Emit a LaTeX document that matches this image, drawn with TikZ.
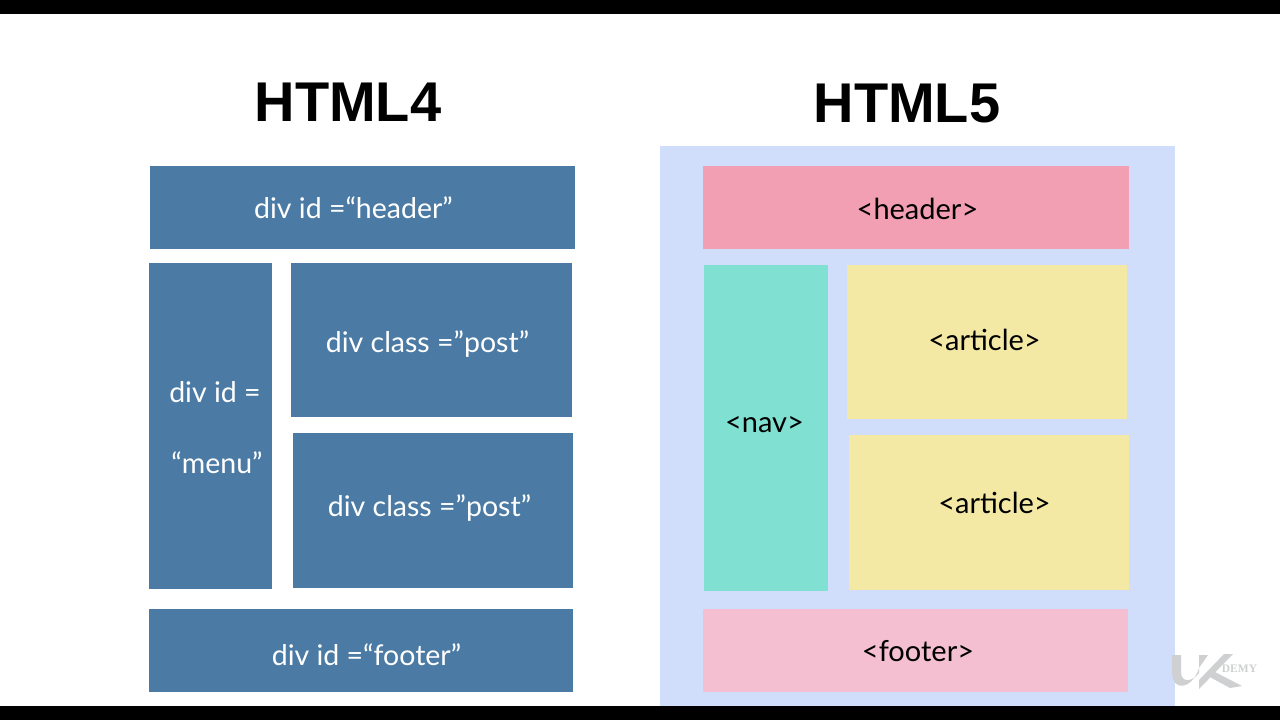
\documentclass[tikz,border=0pt]{standalone}
\usepackage{fontspec}
\setmainfont{Lato}
\newfontfamily\titlefont{Liberation Sans}
\newfontfamily\markfont{Liberation Serif}
\definecolor{divblue}{HTML}{4B7BA4}
\definecolor{pagebg}{HTML}{D1DEFB}
\definecolor{hdrpink}{HTML}{F29FB4}
\definecolor{navgreen}{HTML}{80E1D3}
\definecolor{artyellow}{HTML}{F3E9A5}
\definecolor{ftrpink}{HTML}{F3BFD1}
\definecolor{markgrey}{HTML}{CFD0D1}
\begin{document}
\begin{tikzpicture}[
    x=1pt,
    y=-1pt,
    block/.style={rectangle, inner sep=0, minimum width=#1},
    tall/.style={minimum height=#1},
    divblock/.style={block=#1, fill=divblue},
    title/.style={font=\titlefont\bfseries\fontsize{56}{60}\selectfont, text=black},
    divlabel/.style={font=\fontsize{28.5}{32}\selectfont, text=white},
    taglabel/.style={font=\fontsize{29}{32}\selectfont, text=black}]
   \useasboundingbox (0,0) rectangle (1280,720);
   \fill[white] (0,0) rectangle (1280,720);
   \fill[black] (0,0) rectangle (1280,14);

   % HTML4
   \node(title4) at (348,102) [title] {HTML4};
   \path
     node(divheader) at (362.5,207.5) [divblock=425, tall=83] {}
     node(divmenu)   at (210.5,426)   [divblock=123, tall=326] {}
     node(divpost1)  at (431.5,340)   [divblock=281, tall=154] {}
     node(divpost2)  at (433,510.5)   [divblock=280, tall=155] {}
     node(divfooter) at (361,650.5)   [divblock=424, tall=83] {};
   \path
     node(lblheader4) at (353.5,208) [divlabel] {div id =“header”}
     node(lblmenu1)   at (215,392)   [divlabel] {div id =}
     node(lblmenu2)   at (217,463)   [divlabel] {“menu”}
     node(lblpost1)   at (427.5,344) [divlabel] {div class =”post”}
     node(lblpost2)   at (429.5,508) [divlabel] {div class =”post”}
     node(lblfooter4) at (366.5,655) [divlabel] {div id =“footer”};

   % HTML5
   \node(title5) at (907,104) [title] {HTML5};
   \path
     node(page5)   at (917.5,426) [block=515, tall=560, fill=pagebg] {}
     node(header5) at (916,207.5) [block=426, tall=83, fill=hdrpink] {}
     node(nav5)    at (766,428)   [block=124, tall=326, fill=navgreen] {}
     node(art51)   at (987,342)   [block=280, tall=154, fill=artyellow] {}
     node(art52)   at (989,512.5) [block=280, tall=155, fill=artyellow] {}
     node(footer5) at (915.5,650.5) [block=425, tall=83, fill=ftrpink] {};
   \path
     node(lblheader5) at (917.5,209) [taglabel] {<header>}
     node(lblnav)     at (764.5,425) [taglabel] {<nav>}
     node(lblart1)    at (984.5,340) [taglabel] {<article>}
     node(lblart2)    at (994.5,503) [taglabel] {<article>}
     node(lblfooter5) at (918,651)   [taglabel] {<footer>};

   % watermark
   \fill[markgrey] (1172,655) -- (1181,655) -- (1181,673) .. controls (1182,683) and (1192,682) .. (1199,673)
     -- (1199,655) -- (1208,655) -- (1199,668) .. controls (1192,690) and (1172,692) .. (1172,672) -- cycle;
   \fill[markgrey] (1199,689) -- (1233,654) -- (1224,654) -- (1199,680) -- cycle;
   \fill[markgrey] (1208,676) -- (1213,671) -- (1242,686) -- (1230,688) -- cycle;
   \node(markdemy) at (1239.5,669) [font=\markfont\bfseries\fontsize{11.5}{12}\selectfont, text=markgrey, inner sep=0] {DEMY};

   \fill[black] (0,706) rectangle (1280,720);
\end{tikzpicture}
\end{document}
